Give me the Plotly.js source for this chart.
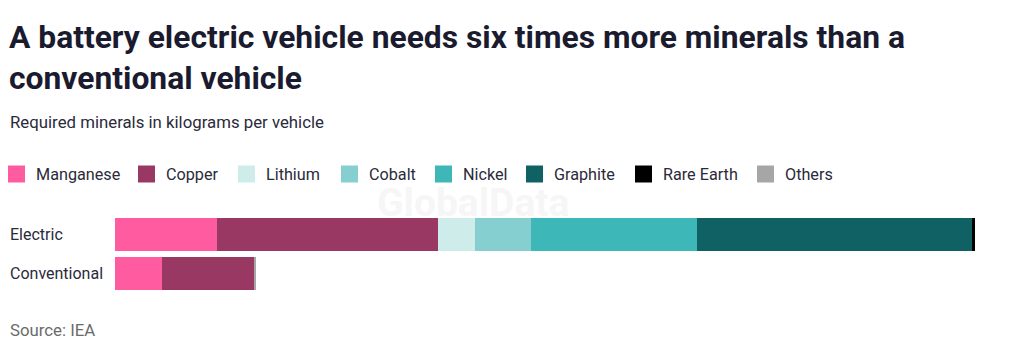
<!DOCTYPE html>
<html>
<head>
<meta charset="utf-8">
<script src="https://cdn.plot.ly/plotly-3.0.1.min.js"></script>
<style>
  html, body { margin: 0; padding: 0; background: #ffffff; }
  #chart { width: 1011px; height: 351px; }
</style>
</head>
<body>
<div id="chart"></div>
<script>
// ---- data ----
const categories = ["Electric", "Conventional"];
const minerals = ["Manganese", "Copper", "Lithium", "Cobalt", "Nickel", "Graphite", "Rare Earth", "Others"];
const manganese = [24.5, 11.2];
const copper    = [53.2, 22.3];
const lithium   = [8.9, 0];
const cobalt    = [13.3, 0];
const nickel    = [39.9, 0];
const graphite  = [66.3, 0];
const rareEarth = [0.55, 0];
const others    = [0, 0.3];
const colors = ["#ff5ba0", "#993862", "#cdecea", "#85cfd0", "#3db7b7", "#0f6163", "#000000", "#a6a6a6"];
const titleText = "A battery electric vehicle needs six times more minerals than a<br>conventional vehicle";
const subtitleText = "Required minerals in kilograms per vehicle";
const sourceText = "Source: IEA";
const watermarkText = "GlobalData";

const seriesValues = [manganese, copper, lithium, cobalt, nickel, graphite, rareEarth, others];

// ---- geometry / style (layout only) ----
const W = 1011, H = 351;
const mL = 115, mR = 11, mT = 215, mB = 58;
const plotW = W - mL - mR, plotH = H - mT - mB;
const px2x = p => (p - mL) / plotW;
const py2y = p => (H - mB - p) / plotH;
const legendItemLeft = [8, 138, 238, 341, 435, 526, 635, 757];
const legendY = 174, legendBox = 17, legendTextGap = 11;
const textFont = "Roboto, sans-serif";

const traces = minerals.map((m, i) => ({
  type: "bar", orientation: "h", name: m,
  x: seriesValues[i], y: categories,
  marker: { color: colors[i], line: { width: 0 } },
  showlegend: false, hoverinfo: "x+name"
}));

const annotations = [];
const shapes = [];

// watermark
annotations.push({
  text: "<b>" + watermarkText + "</b>", xref: "paper", yref: "paper",
  x: px2x(473), y: py2y(203), xanchor: "center", yanchor: "middle", showarrow: false,
  font: { family: textFont, size: 39, color: "#f6f6f6" }
});

// category labels (left aligned)
categories.forEach(c => {
  annotations.push({
    text: c, xref: "paper", yref: "y", x: px2x(8), y: c,
    xanchor: "left", yanchor: "middle", showarrow: false,
    font: { family: textFont, size: 16, color: "#2a2a3a" }
  });
});

// subtitle
annotations.push({
  text: subtitleText, xref: "paper", yref: "paper", x: px2x(8), y: py2y(122),
  xanchor: "left", yanchor: "middle", showarrow: false,
  font: { family: textFont, size: 16.8, color: "#2a2a3a" }
});

// source
annotations.push({
  text: sourceText, xref: "paper", yref: "paper", x: px2x(8), y: py2y(330),
  xanchor: "left", yanchor: "middle", showarrow: false,
  font: { family: textFont, size: 16.8, color: "#6b6b6b" }
});

// legend (boxes + labels built from minerals / colors)
minerals.forEach((m, i) => {
  const left = legendItemLeft[i];
  shapes.push({
    type: "rect", xref: "paper", yref: "paper", layer: "above",
    x0: px2x(left), x1: px2x(left + legendBox),
    y0: py2y(legendY + legendBox / 2), y1: py2y(legendY - legendBox / 2),
    fillcolor: colors[i], line: { width: 0 }
  });
  annotations.push({
    text: m, xref: "paper", yref: "paper",
    x: px2x(left + legendBox + legendTextGap - 2), y: py2y(legendY),
    xanchor: "left", yanchor: "middle", showarrow: false,
    font: { family: textFont, size: 16.2, color: "#2a2a3a" }
  });
});

const layout = {
  width: W, height: H,
  margin: { l: mL, r: mR, t: mT, b: mB, autoexpand: false },
  paper_bgcolor: "#ffffff", plot_bgcolor: "rgba(0,0,0,0)",
  barmode: "stack", bargap: 0.13,
  title: {
    text: titleText,
    xref: "container", yref: "container",
    x: 9 / W, xanchor: "left",
    y: 1 - 48 / H, yanchor: "top",
    font: { family: textFont, size: 31.8, color: "#1b1b2f", weight: 700 }
  },
  xaxis: { range: [0, plotW / 4.16], visible: false, fixedrange: true },
  yaxis: { type: "category", categoryarray: categories, autorange: "reversed",
           showticklabels: false, showgrid: false, zeroline: false, showline: false, ticks: "", fixedrange: true },
  showlegend: false,
  annotations: annotations,
  shapes: shapes
};

Plotly.newPlot("chart", traces, layout, { displayModeBar: false, staticPlot: true });
</script>
</body>
</html>
